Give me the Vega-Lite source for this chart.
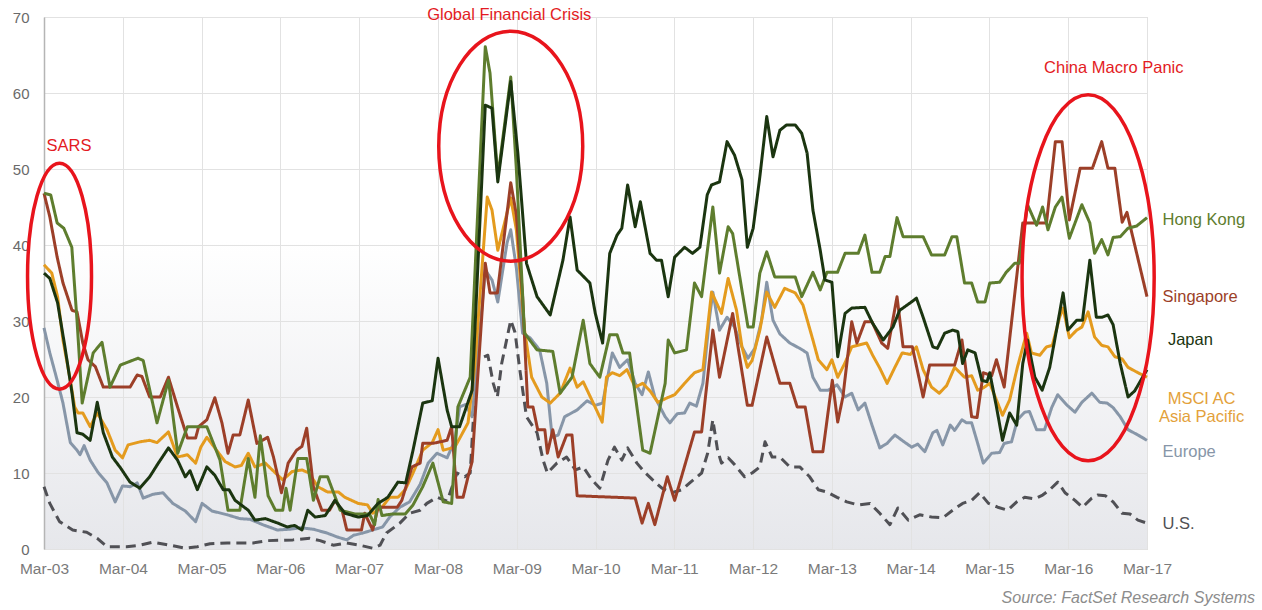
{
  "$schema": "https://vega.github.io/schema/vega-lite/v6.json",
  "width": 1103,
  "height": 532,
  "autosize": "none",
  "padding": {"left": 44, "top": 17, "right": 115, "bottom": 61},
  "background": "white",
  "config": {
    "font": "Liberation Sans",
    "view": {
      "stroke": "#cfcfcf",
      "strokeWidth": 1,
      "fill": {"gradient": "linear", "x1": 0, "y1": 0, "x2": 0, "y2": 1,
        "stops": [{"offset": 0, "color": "#ffffff"}, {"offset": 0.42, "color": "#ffffff"}, {"offset": 1, "color": "#e6e7eb"}]}
    }
  },
  "datasets": {
    "series": [
      {"s":"US","d":"2003-03-01","v":8.2},{"s":"US","d":"2003-03-28","v":6.0},{"s":"US","d":"2003-05-12","v":3.6},{"s":"US","d":"2003-07-12","v":2.5},{"s":"US","d":"2003-09-15","v":2.2},{"s":"US","d":"2003-11-03","v":1.4},{"s":"US","d":"2003-12-18","v":0.3},{"s":"US","d":"2004-03-18","v":0.3},{"s":"US","d":"2004-05-18","v":0.5},{"s":"US","d":"2004-07-18","v":0.9},{"s":"US","d":"2004-10-06","v":0.5},{"s":"US","d":"2004-12-15","v":0.1},{"s":"US","d":"2005-02-09","v":0.3},{"s":"US","d":"2005-04-09","v":0.7},{"s":"US","d":"2005-06-28","v":0.8},{"s":"US","d":"2005-10-25","v":0.8},{"s":"US","d":"2006-01-01","v":1.1},{"s":"US","d":"2006-04-28","v":1.2},{"s":"US","d":"2006-07-15","v":1.4},{"s":"US","d":"2006-09-01","v":1.1},{"s":"US","d":"2006-11-01","v":0.5},{"s":"US","d":"2007-01-03","v":0.8},{"s":"US","d":"2007-03-03","v":0.5},{"s":"US","d":"2007-05-03","v":0.1},{"s":"US","d":"2007-06-06","v":0.5},{"s":"US","d":"2007-07-06","v":2.1},{"s":"US","d":"2007-09-06","v":3.4},{"s":"US","d":"2007-10-21","v":4.7},{"s":"US","d":"2007-12-09","v":5.1},{"s":"US","d":"2008-01-09","v":6.0},{"s":"US","d":"2008-02-25","v":6.8},{"s":"US","d":"2008-04-12","v":6.3},{"s":"US","d":"2008-05-28","v":10.0},{"s":"US","d":"2008-07-03","v":9.5},{"s":"US","d":"2008-07-28","v":10.0},{"s":"US","d":"2008-08-28","v":24.9},{"s":"US","d":"2008-10-18","v":25.5},{"s":"US","d":"2008-11-12","v":21.8},{"s":"US","d":"2008-12-01","v":20.0},{"s":"US","d":"2008-12-21","v":24.4},{"s":"US","d":"2009-02-01","v":30.1},{"s":"US","d":"2009-02-21","v":28.5},{"s":"US","d":"2009-03-15","v":23.6},{"s":"US","d":"2009-04-15","v":17.4},{"s":"US","d":"2009-06-03","v":15.3},{"s":"US","d":"2009-07-01","v":11.7},{"s":"US","d":"2009-07-21","v":10.0},{"s":"US","d":"2009-09-03","v":11.3},{"s":"US","d":"2009-10-18","v":12.1},{"s":"US","d":"2009-11-28","v":10.4},{"s":"US","d":"2010-01-03","v":10.8},{"s":"US","d":"2010-02-12","v":9.1},{"s":"US","d":"2010-03-21","v":8.0},{"s":"US","d":"2010-04-28","v":11.7},{"s":"US","d":"2010-05-28","v":13.4},{"s":"US","d":"2010-07-01","v":11.7},{"s":"US","d":"2010-07-28","v":13.3},{"s":"US","d":"2010-09-09","v":11.3},{"s":"US","d":"2010-10-15","v":10.1},{"s":"US","d":"2010-11-21","v":9.1},{"s":"US","d":"2011-01-03","v":8.0},{"s":"US","d":"2011-02-18","v":7.4},{"s":"US","d":"2011-04-06","v":7.8},{"s":"US","d":"2011-05-12","v":8.7},{"s":"US","d":"2011-07-06","v":10.0},{"s":"US","d":"2011-08-03","v":12.6},{"s":"US","d":"2011-08-27","v":17.0},{"s":"US","d":"2011-09-18","v":13.0},{"s":"US","d":"2011-10-06","v":11.3},{"s":"US","d":"2011-11-06","v":12.0},{"s":"US","d":"2011-12-06","v":11.1},{"s":"US","d":"2012-01-21","v":9.5},{"s":"US","d":"2012-02-25","v":10.0},{"s":"US","d":"2012-04-01","v":10.8},{"s":"US","d":"2012-04-25","v":14.1},{"s":"US","d":"2012-05-28","v":12.1},{"s":"US","d":"2012-07-03","v":12.1},{"s":"US","d":"2012-08-18","v":10.8},{"s":"US","d":"2012-10-03","v":10.8},{"s":"US","d":"2012-11-18","v":9.5},{"s":"US","d":"2012-12-28","v":7.8},{"s":"US","d":"2013-02-06","v":7.5},{"s":"US","d":"2013-03-25","v":6.8},{"s":"US","d":"2013-05-09","v":6.2},{"s":"US","d":"2013-07-01","v":5.8},{"s":"US","d":"2013-08-25","v":6.0},{"s":"US","d":"2013-10-09","v":4.7},{"s":"US","d":"2013-11-25","v":3.2},{"s":"US","d":"2014-01-01","v":5.4},{"s":"US","d":"2014-02-18","v":3.8},{"s":"US","d":"2014-04-12","v":4.5},{"s":"US","d":"2014-06-06","v":4.2},{"s":"US","d":"2014-07-28","v":4.1},{"s":"US","d":"2014-09-12","v":5.1},{"s":"US","d":"2014-10-28","v":6.0},{"s":"US","d":"2014-12-09","v":6.4},{"s":"US","d":"2015-01-15","v":7.4},{"s":"US","d":"2015-02-25","v":6.0},{"s":"US","d":"2015-04-09","v":5.5},{"s":"US","d":"2015-05-25","v":5.1},{"s":"US","d":"2015-07-06","v":6.2},{"s":"US","d":"2015-08-12","v":6.8},{"s":"US","d":"2015-09-28","v":6.6},{"s":"US","d":"2015-11-03","v":7.1},{"s":"US","d":"2015-12-06","v":7.8},{"s":"US","d":"2016-01-12","v":8.8},{"s":"US","d":"2016-02-15","v":7.4},{"s":"US","d":"2016-04-01","v":6.4},{"s":"US","d":"2016-05-06","v":5.5},{"s":"US","d":"2016-06-18","v":6.7},{"s":"US","d":"2016-07-15","v":7.1},{"s":"US","d":"2016-08-21","v":7.0},{"s":"US","d":"2016-09-25","v":6.2},{"s":"US","d":"2016-11-06","v":4.7},{"s":"US","d":"2016-12-12","v":4.6},{"s":"US","d":"2017-01-18","v":3.8},{"s":"US","d":"2017-03-01","v":3.4},

      {"s":"EU","d":"2003-03-01","v":29.1},{"s":"EU","d":"2003-03-28","v":25.8},{"s":"EU","d":"2003-05-01","v":22.2},{"s":"EU","d":"2003-05-28","v":19.2},{"s":"EU","d":"2003-07-01","v":14.0},{"s":"EU","d":"2003-08-01","v":13.0},{"s":"EU","d":"2003-08-15","v":12.4},{"s":"EU","d":"2003-09-03","v":13.6},{"s":"EU","d":"2003-10-01","v":11.7},{"s":"EU","d":"2003-11-06","v":10.1},{"s":"EU","d":"2003-12-18","v":8.7},{"s":"EU","d":"2004-01-25","v":6.2},{"s":"EU","d":"2004-02-28","v":8.3},{"s":"EU","d":"2004-04-03","v":8.2},{"s":"EU","d":"2004-05-06","v":8.7},{"s":"EU","d":"2004-06-03","v":6.7},{"s":"EU","d":"2004-07-18","v":7.2},{"s":"EU","d":"2004-09-03","v":7.4},{"s":"EU","d":"2004-10-18","v":6.0},{"s":"EU","d":"2004-12-15","v":5.0},{"s":"EU","d":"2005-02-01","v":3.6},{"s":"EU","d":"2005-03-03","v":6.0},{"s":"EU","d":"2005-04-18","v":5.0},{"s":"EU","d":"2005-06-28","v":4.5},{"s":"EU","d":"2005-08-25","v":4.0},{"s":"EU","d":"2005-10-12","v":3.9},{"s":"EU","d":"2005-12-09","v":3.2},{"s":"EU","d":"2006-02-15","v":2.5},{"s":"EU","d":"2006-04-15","v":2.6},{"s":"EU","d":"2006-06-01","v":2.8},{"s":"EU","d":"2006-08-01","v":2.6},{"s":"EU","d":"2006-10-03","v":2.1},{"s":"EU","d":"2006-11-18","v":1.6},{"s":"EU","d":"2007-01-03","v":1.2},{"s":"EU","d":"2007-02-03","v":1.8},{"s":"EU","d":"2007-03-18","v":2.1},{"s":"EU","d":"2007-05-03","v":2.5},{"s":"EU","d":"2007-06-18","v":2.9},{"s":"EU","d":"2007-07-21","v":4.2},{"s":"EU","d":"2007-09-06","v":5.5},{"s":"EU","d":"2007-10-21","v":6.2},{"s":"EU","d":"2007-12-09","v":8.5},{"s":"EU","d":"2008-01-15","v":11.3},{"s":"EU","d":"2008-02-25","v":12.6},{"s":"EU","d":"2008-04-12","v":12.0},{"s":"EU","d":"2008-05-18","v":14.3},{"s":"EU","d":"2008-06-09","v":18.7},{"s":"EU","d":"2008-07-06","v":19.0},{"s":"EU","d":"2008-08-06","v":17.4},{"s":"EU","d":"2008-10-06","v":36.7},{"s":"EU","d":"2008-11-06","v":35.4},{"s":"EU","d":"2008-12-03","v":32.5},{"s":"EU","d":"2009-01-15","v":40.3},{"s":"EU","d":"2009-02-01","v":42.0},{"s":"EU","d":"2009-02-27","v":37.0},{"s":"EU","d":"2009-03-28","v":28.4},{"s":"EU","d":"2009-05-01","v":27.8},{"s":"EU","d":"2009-06-15","v":26.2},{"s":"EU","d":"2009-07-18","v":21.8},{"s":"EU","d":"2009-08-12","v":14.7},{"s":"EU","d":"2009-09-09","v":15.0},{"s":"EU","d":"2009-10-09","v":17.4},{"s":"EU","d":"2009-12-06","v":18.3},{"s":"EU","d":"2010-01-21","v":19.5},{"s":"EU","d":"2010-02-28","v":18.9},{"s":"EU","d":"2010-04-03","v":19.2},{"s":"EU","d":"2010-05-18","v":25.8},{"s":"EU","d":"2010-06-21","v":23.9},{"s":"EU","d":"2010-07-28","v":24.9},{"s":"EU","d":"2010-09-01","v":21.8},{"s":"EU","d":"2010-10-03","v":20.3},{"s":"EU","d":"2010-11-01","v":23.3},{"s":"EU","d":"2010-12-01","v":20.0},{"s":"EU","d":"2011-01-18","v":17.4},{"s":"EU","d":"2011-02-09","v":16.6},{"s":"EU","d":"2011-03-15","v":17.8},{"s":"EU","d":"2011-04-18","v":17.9},{"s":"EU","d":"2011-05-12","v":19.2},{"s":"EU","d":"2011-06-12","v":18.8},{"s":"EU","d":"2011-07-12","v":21.8},{"s":"EU","d":"2011-08-12","v":30.5},{"s":"EU","d":"2011-08-27","v":33.8},{"s":"EU","d":"2011-09-27","v":28.8},{"s":"EU","d":"2011-11-01","v":30.5},{"s":"EU","d":"2011-12-06","v":29.2},{"s":"EU","d":"2012-01-09","v":26.6},{"s":"EU","d":"2012-02-06","v":25.1},{"s":"EU","d":"2012-03-09","v":26.4},{"s":"EU","d":"2012-04-09","v":30.1},{"s":"EU","d":"2012-05-03","v":35.1},{"s":"EU","d":"2012-06-01","v":30.1},{"s":"EU","d":"2012-07-03","v":28.3},{"s":"EU","d":"2012-08-18","v":27.1},{"s":"EU","d":"2012-10-03","v":26.4},{"s":"EU","d":"2012-11-06","v":25.8},{"s":"EU","d":"2012-12-03","v":22.6},{"s":"EU","d":"2013-01-06","v":20.9},{"s":"EU","d":"2013-02-12","v":20.9},{"s":"EU","d":"2013-03-25","v":21.6},{"s":"EU","d":"2013-05-01","v":20.0},{"s":"EU","d":"2013-06-01","v":20.5},{"s":"EU","d":"2013-07-01","v":18.3},{"s":"EU","d":"2013-08-01","v":19.2},{"s":"EU","d":"2013-09-03","v":16.3},{"s":"EU","d":"2013-10-09","v":13.3},{"s":"EU","d":"2013-11-12","v":13.9},{"s":"EU","d":"2013-12-18","v":15.0},{"s":"EU","d":"2014-01-25","v":14.2},{"s":"EU","d":"2014-03-06","v":13.4},{"s":"EU","d":"2014-04-03","v":13.8},{"s":"EU","d":"2014-05-06","v":12.8},{"s":"EU","d":"2014-06-12","v":15.3},{"s":"EU","d":"2014-07-01","v":15.6},{"s":"EU","d":"2014-07-28","v":13.7},{"s":"EU","d":"2014-09-01","v":16.3},{"s":"EU","d":"2014-09-21","v":15.6},{"s":"EU","d":"2014-10-25","v":17.0},{"s":"EU","d":"2014-11-15","v":16.6},{"s":"EU","d":"2014-12-09","v":16.6},{"s":"EU","d":"2015-01-06","v":13.9},{"s":"EU","d":"2015-02-01","v":11.3},{"s":"EU","d":"2015-03-12","v":12.6},{"s":"EU","d":"2015-04-18","v":12.7},{"s":"EU","d":"2015-05-09","v":13.9},{"s":"EU","d":"2015-06-12","v":14.1},{"s":"EU","d":"2015-07-09","v":17.0},{"s":"EU","d":"2015-08-12","v":18.0},{"s":"EU","d":"2015-09-03","v":18.1},{"s":"EU","d":"2015-10-06","v":15.7},{"s":"EU","d":"2015-11-12","v":15.7},{"s":"EU","d":"2015-12-15","v":18.6},{"s":"EU","d":"2016-01-12","v":20.3},{"s":"EU","d":"2016-02-25","v":18.9},{"s":"EU","d":"2016-04-01","v":18.0},{"s":"EU","d":"2016-05-03","v":19.3},{"s":"EU","d":"2016-06-18","v":20.5},{"s":"EU","d":"2016-07-25","v":19.3},{"s":"EU","d":"2016-08-28","v":19.2},{"s":"EU","d":"2016-09-25","v":18.6},{"s":"EU","d":"2016-10-28","v":17.4},{"s":"EU","d":"2016-12-03","v":15.7},{"s":"EU","d":"2017-01-18","v":15.0},{"s":"EU","d":"2017-03-01","v":14.3},

      {"s":"AP","d":"2003-03-01","v":37.4},{"s":"AP","d":"2003-04-06","v":36.3},{"s":"AP","d":"2003-05-03","v":33.2},{"s":"AP","d":"2003-05-28","v":27.5},{"s":"AP","d":"2003-07-01","v":22.2},{"s":"AP","d":"2003-07-21","v":18.7},{"s":"AP","d":"2003-08-06","v":17.9},{"s":"AP","d":"2003-08-28","v":17.9},{"s":"AP","d":"2003-10-01","v":16.1},{"s":"AP","d":"2003-11-03","v":17.9},{"s":"AP","d":"2003-12-18","v":15.7},{"s":"AP","d":"2004-01-25","v":13.0},{"s":"AP","d":"2004-02-28","v":12.0},{"s":"AP","d":"2004-03-25","v":13.7},{"s":"AP","d":"2004-05-18","v":14.1},{"s":"AP","d":"2004-07-03","v":14.3},{"s":"AP","d":"2004-08-06","v":14.0},{"s":"AP","d":"2004-09-28","v":15.4},{"s":"AP","d":"2004-11-09","v":12.1},{"s":"AP","d":"2004-12-25","v":12.4},{"s":"AP","d":"2005-02-01","v":11.3},{"s":"AP","d":"2005-02-25","v":13.4},{"s":"AP","d":"2005-03-25","v":14.7},{"s":"AP","d":"2005-05-09","v":13.0},{"s":"AP","d":"2005-06-18","v":11.5},{"s":"AP","d":"2005-08-03","v":10.8},{"s":"AP","d":"2005-09-01","v":11.0},{"s":"AP","d":"2005-10-03","v":12.6},{"s":"AP","d":"2005-11-03","v":10.8},{"s":"AP","d":"2005-12-21","v":11.3},{"s":"AP","d":"2006-02-06","v":10.0},{"s":"AP","d":"2006-03-12","v":9.1},{"s":"AP","d":"2006-04-25","v":10.2},{"s":"AP","d":"2006-06-09","v":10.4},{"s":"AP","d":"2006-07-12","v":10.0},{"s":"AP","d":"2006-08-21","v":8.2},{"s":"AP","d":"2006-10-06","v":7.5},{"s":"AP","d":"2006-11-25","v":7.5},{"s":"AP","d":"2006-12-25","v":6.8},{"s":"AP","d":"2007-02-25","v":6.0},{"s":"AP","d":"2007-04-09","v":5.8},{"s":"AP","d":"2007-05-03","v":4.7},{"s":"AP","d":"2007-06-15","v":5.5},{"s":"AP","d":"2007-07-21","v":6.8},{"s":"AP","d":"2007-08-28","v":6.8},{"s":"AP","d":"2007-10-01","v":7.8},{"s":"AP","d":"2007-11-06","v":10.0},{"s":"AP","d":"2007-12-21","v":13.0},{"s":"AP","d":"2008-02-03","v":14.0},{"s":"AP","d":"2008-03-01","v":15.7},{"s":"AP","d":"2008-03-25","v":13.0},{"s":"AP","d":"2008-05-18","v":13.4},{"s":"AP","d":"2008-07-18","v":16.6},{"s":"AP","d":"2008-08-18","v":24.0},{"s":"AP","d":"2008-10-15","v":46.3},{"s":"AP","d":"2008-11-06","v":44.6},{"s":"AP","d":"2008-12-03","v":39.3},{"s":"AP","d":"2009-02-01","v":46.2},{"s":"AP","d":"2009-02-27","v":42.0},{"s":"AP","d":"2009-04-06","v":28.8},{"s":"AP","d":"2009-05-09","v":22.6},{"s":"AP","d":"2009-06-25","v":20.0},{"s":"AP","d":"2009-08-03","v":19.2},{"s":"AP","d":"2009-09-18","v":20.5},{"s":"AP","d":"2009-11-03","v":23.8},{"s":"AP","d":"2009-12-06","v":21.3},{"s":"AP","d":"2010-01-03","v":22.0},{"s":"AP","d":"2010-02-12","v":19.6},{"s":"AP","d":"2010-04-01","v":16.7},{"s":"AP","d":"2010-04-21","v":22.6},{"s":"AP","d":"2010-05-18","v":23.2},{"s":"AP","d":"2010-06-21","v":22.8},{"s":"AP","d":"2010-07-25","v":23.6},{"s":"AP","d":"2010-09-01","v":21.3},{"s":"AP","d":"2010-10-06","v":21.8},{"s":"AP","d":"2010-11-09","v":20.8},{"s":"AP","d":"2010-12-15","v":19.3},{"s":"AP","d":"2011-01-28","v":19.9},{"s":"AP","d":"2011-03-03","v":20.3},{"s":"AP","d":"2011-04-18","v":21.8},{"s":"AP","d":"2011-06-03","v":23.2},{"s":"AP","d":"2011-07-12","v":23.6},{"s":"AP","d":"2011-08-21","v":33.8},{"s":"AP","d":"2011-10-06","v":31.0},{"s":"AP","d":"2011-11-06","v":35.6},{"s":"AP","d":"2011-12-15","v":31.4},{"s":"AP","d":"2012-01-09","v":26.6},{"s":"AP","d":"2012-02-03","v":23.9},{"s":"AP","d":"2012-02-25","v":24.8},{"s":"AP","d":"2012-04-01","v":28.8},{"s":"AP","d":"2012-05-03","v":33.8},{"s":"AP","d":"2012-06-09","v":31.8},{"s":"AP","d":"2012-07-25","v":34.3},{"s":"AP","d":"2012-09-12","v":33.7},{"s":"AP","d":"2012-10-18","v":32.1},{"s":"AP","d":"2012-12-03","v":27.5},{"s":"AP","d":"2012-12-28","v":24.9},{"s":"AP","d":"2013-02-06","v":23.6},{"s":"AP","d":"2013-03-01","v":24.9},{"s":"AP","d":"2013-03-28","v":22.6},{"s":"AP","d":"2013-05-01","v":24.5},{"s":"AP","d":"2013-06-01","v":26.6},{"s":"AP","d":"2013-08-09","v":27.1},{"s":"AP","d":"2013-09-06","v":25.5},{"s":"AP","d":"2013-10-09","v":23.8},{"s":"AP","d":"2013-11-12","v":21.8},{"s":"AP","d":"2013-12-18","v":23.9},{"s":"AP","d":"2014-01-21","v":25.8},{"s":"AP","d":"2014-02-28","v":25.6},{"s":"AP","d":"2014-03-28","v":26.6},{"s":"AP","d":"2014-04-28","v":23.6},{"s":"AP","d":"2014-06-06","v":21.3},{"s":"AP","d":"2014-07-12","v":20.5},{"s":"AP","d":"2014-08-15","v":21.5},{"s":"AP","d":"2014-09-21","v":23.9},{"s":"AP","d":"2014-11-06","v":22.6},{"s":"AP","d":"2014-12-09","v":22.8},{"s":"AP","d":"2015-01-06","v":20.9},{"s":"AP","d":"2015-02-01","v":21.2},{"s":"AP","d":"2015-03-03","v":21.8},{"s":"AP","d":"2015-04-03","v":19.6},{"s":"AP","d":"2015-05-01","v":17.6},{"s":"AP","d":"2015-06-03","v":19.6},{"s":"AP","d":"2015-07-09","v":23.9},{"s":"AP","d":"2015-08-21","v":28.4},{"s":"AP","d":"2015-09-12","v":25.8},{"s":"AP","d":"2015-10-21","v":25.5},{"s":"AP","d":"2015-11-21","v":26.6},{"s":"AP","d":"2015-12-18","v":26.8},{"s":"AP","d":"2016-01-21","v":30.5},{"s":"AP","d":"2016-02-06","v":31.7},{"s":"AP","d":"2016-03-06","v":27.8},{"s":"AP","d":"2016-04-09","v":28.8},{"s":"AP","d":"2016-05-03","v":29.2},{"s":"AP","d":"2016-06-01","v":31.2},{"s":"AP","d":"2016-07-01","v":27.9},{"s":"AP","d":"2016-08-03","v":26.8},{"s":"AP","d":"2016-09-01","v":26.6},{"s":"AP","d":"2016-10-03","v":25.3},{"s":"AP","d":"2016-11-06","v":25.0},{"s":"AP","d":"2016-12-03","v":23.9},{"s":"AP","d":"2017-01-18","v":23.2},{"s":"AP","d":"2017-03-01","v":22.6},

      {"s":"SG","d":"2003-03-01","v":46.8},{"s":"SG","d":"2003-03-28","v":43.7},{"s":"SG","d":"2003-05-01","v":38.4},{"s":"SG","d":"2003-05-28","v":35.0},{"s":"SG","d":"2003-07-09","v":31.4},{"s":"SG","d":"2003-08-01","v":31.2},{"s":"SG","d":"2003-08-28","v":27.1},{"s":"SG","d":"2003-09-21","v":24.9},{"s":"SG","d":"2003-10-25","v":24.0},{"s":"SG","d":"2003-12-01","v":21.3},{"s":"SG","d":"2004-04-03","v":21.3},{"s":"SG","d":"2004-05-06","v":22.9},{"s":"SG","d":"2004-05-28","v":22.7},{"s":"SG","d":"2004-07-03","v":20.0},{"s":"SG","d":"2004-08-21","v":20.0},{"s":"SG","d":"2004-09-28","v":22.6},{"s":"SG","d":"2004-11-09","v":18.7},{"s":"SG","d":"2004-12-25","v":14.6},{"s":"SG","d":"2005-02-01","v":14.6},{"s":"SG","d":"2005-02-15","v":16.1},{"s":"SG","d":"2005-03-25","v":17.0},{"s":"SG","d":"2005-05-01","v":19.9},{"s":"SG","d":"2005-06-03","v":16.6},{"s":"SG","d":"2005-07-01","v":12.6},{"s":"SG","d":"2005-07-25","v":15.0},{"s":"SG","d":"2005-08-25","v":15.0},{"s":"SG","d":"2005-10-03","v":19.6},{"s":"SG","d":"2005-11-12","v":13.9},{"s":"SG","d":"2006-01-01","v":14.7},{"s":"SG","d":"2006-01-28","v":12.1},{"s":"SG","d":"2006-03-06","v":7.4},{"s":"SG","d":"2006-04-06","v":11.3},{"s":"SG","d":"2006-05-15","v":13.0},{"s":"SG","d":"2006-06-09","v":13.5},{"s":"SG","d":"2006-07-01","v":15.9},{"s":"SG","d":"2006-08-01","v":8.2},{"s":"SG","d":"2006-09-09","v":5.1},{"s":"SG","d":"2006-10-15","v":5.1},{"s":"SG","d":"2006-11-09","v":6.4},{"s":"SG","d":"2006-12-12","v":5.1},{"s":"SG","d":"2007-01-03","v":2.5},{"s":"SG","d":"2007-03-12","v":2.5},{"s":"SG","d":"2007-03-27","v":4.7},{"s":"SG","d":"2007-05-03","v":2.5},{"s":"SG","d":"2007-05-28","v":5.5},{"s":"SG","d":"2007-07-21","v":5.5},{"s":"SG","d":"2007-08-25","v":5.5},{"s":"SG","d":"2007-09-15","v":6.4},{"s":"SG","d":"2007-11-01","v":10.8},{"s":"SG","d":"2007-12-09","v":11.3},{"s":"SG","d":"2007-12-21","v":13.9},{"s":"SG","d":"2008-02-06","v":13.9},{"s":"SG","d":"2008-04-12","v":14.3},{"s":"SG","d":"2008-05-03","v":16.1},{"s":"SG","d":"2008-05-28","v":6.8},{"s":"SG","d":"2008-06-25","v":6.8},{"s":"SG","d":"2008-07-18","v":9.5},{"s":"SG","d":"2008-08-06","v":11.5},{"s":"SG","d":"2008-10-06","v":37.6},{"s":"SG","d":"2008-10-28","v":33.7},{"s":"SG","d":"2008-12-01","v":33.7},{"s":"SG","d":"2009-02-01","v":48.2},{"s":"SG","d":"2009-02-27","v":44.0},{"s":"SG","d":"2009-03-28","v":33.2},{"s":"SG","d":"2009-04-21","v":18.7},{"s":"SG","d":"2009-05-15","v":18.7},{"s":"SG","d":"2009-06-06","v":15.7},{"s":"SG","d":"2009-07-09","v":15.7},{"s":"SG","d":"2009-07-21","v":12.6},{"s":"SG","d":"2009-08-15","v":15.7},{"s":"SG","d":"2009-09-09","v":12.1},{"s":"SG","d":"2009-10-18","v":15.0},{"s":"SG","d":"2009-11-12","v":15.0},{"s":"SG","d":"2009-12-06","v":7.0},{"s":"SG","d":"2010-09-01","v":6.7},{"s":"SG","d":"2010-10-03","v":3.4},{"s":"SG","d":"2010-11-01","v":6.0},{"s":"SG","d":"2010-12-01","v":3.2},{"s":"SG","d":"2011-01-28","v":9.5},{"s":"SG","d":"2011-03-03","v":6.4},{"s":"SG","d":"2011-06-03","v":15.4},{"s":"SG","d":"2011-07-06","v":15.4},{"s":"SG","d":"2011-08-27","v":28.8},{"s":"SG","d":"2011-09-27","v":22.6},{"s":"SG","d":"2011-11-27","v":31.0},{"s":"SG","d":"2012-02-03","v":18.9},{"s":"SG","d":"2012-02-25","v":18.9},{"s":"SG","d":"2012-05-03","v":27.9},{"s":"SG","d":"2012-07-03","v":21.8},{"s":"SG","d":"2012-08-18","v":21.8},{"s":"SG","d":"2012-09-21","v":18.7},{"s":"SG","d":"2012-10-28","v":18.7},{"s":"SG","d":"2012-12-03","v":12.8},{"s":"SG","d":"2013-01-18","v":12.8},{"s":"SG","d":"2013-03-03","v":22.2},{"s":"SG","d":"2013-03-28","v":16.7},{"s":"SG","d":"2013-04-21","v":20.0},{"s":"SG","d":"2013-06-01","v":29.9},{"s":"SG","d":"2013-06-25","v":27.1},{"s":"SG","d":"2013-08-01","v":29.9},{"s":"SG","d":"2013-09-03","v":29.9},{"s":"SG","d":"2013-10-18","v":27.1},{"s":"SG","d":"2013-11-15","v":26.4},{"s":"SG","d":"2013-12-28","v":33.2},{"s":"SG","d":"2014-01-25","v":26.6},{"s":"SG","d":"2014-03-09","v":26.6},{"s":"SG","d":"2014-04-28","v":20.0},{"s":"SG","d":"2014-05-28","v":24.2},{"s":"SG","d":"2014-09-21","v":24.2},{"s":"SG","d":"2014-10-25","v":27.5},{"s":"SG","d":"2014-11-06","v":25.0},{"s":"SG","d":"2014-12-09","v":17.4},{"s":"SG","d":"2015-01-03","v":17.3},{"s":"SG","d":"2015-02-01","v":23.2},{"s":"SG","d":"2015-03-12","v":22.8},{"s":"SG","d":"2015-04-03","v":24.9},{"s":"SG","d":"2015-05-09","v":21.3},{"s":"SG","d":"2015-08-03","v":42.9},{"s":"SG","d":"2015-11-21","v":42.9},{"s":"SG","d":"2016-01-01","v":53.6},{"s":"SG","d":"2016-02-01","v":53.6},{"s":"SG","d":"2016-03-06","v":43.3},{"s":"SG","d":"2016-04-25","v":50.1},{"s":"SG","d":"2016-06-21","v":50.1},{"s":"SG","d":"2016-08-03","v":53.6},{"s":"SG","d":"2016-09-01","v":50.1},{"s":"SG","d":"2016-10-03","v":50.1},{"s":"SG","d":"2016-11-06","v":43.0},{"s":"SG","d":"2016-11-28","v":44.3},{"s":"SG","d":"2017-03-01","v":33.2},

      {"s":"HK","d":"2003-03-01","v":46.8},{"s":"HK","d":"2003-04-01","v":46.6},{"s":"HK","d":"2003-05-01","v":42.9},{"s":"HK","d":"2003-06-01","v":42.2},{"s":"HK","d":"2003-07-08","v":39.7},{"s":"HK","d":"2003-08-01","v":30.1},{"s":"HK","d":"2003-08-25","v":19.2},{"s":"HK","d":"2003-10-15","v":25.8},{"s":"HK","d":"2003-11-25","v":27.2},{"s":"HK","d":"2004-01-01","v":21.3},{"s":"HK","d":"2004-02-18","v":24.2},{"s":"HK","d":"2004-03-25","v":24.6},{"s":"HK","d":"2004-05-10","v":25.1},{"s":"HK","d":"2004-06-03","v":24.8},{"s":"HK","d":"2004-08-06","v":16.6},{"s":"HK","d":"2004-09-28","v":22.2},{"s":"HK","d":"2004-11-10","v":12.6},{"s":"HK","d":"2004-12-25","v":16.1},{"s":"HK","d":"2005-03-25","v":16.1},{"s":"HK","d":"2005-05-25","v":11.7},{"s":"HK","d":"2005-07-01","v":5.1},{"s":"HK","d":"2005-08-25","v":5.1},{"s":"HK","d":"2005-10-03","v":11.9},{"s":"HK","d":"2005-11-03","v":6.8},{"s":"HK","d":"2005-11-28","v":14.9},{"s":"HK","d":"2006-01-03","v":7.0},{"s":"HK","d":"2006-02-06","v":5.1},{"s":"HK","d":"2006-03-12","v":5.1},{"s":"HK","d":"2006-03-27","v":8.0},{"s":"HK","d":"2006-04-15","v":5.1},{"s":"HK","d":"2006-05-21","v":11.9},{"s":"HK","d":"2006-07-01","v":11.9},{"s":"HK","d":"2006-08-01","v":6.4},{"s":"HK","d":"2006-09-01","v":9.5},{"s":"HK","d":"2006-10-06","v":9.5},{"s":"HK","d":"2006-12-03","v":5.1},{"s":"HK","d":"2007-02-12","v":4.6},{"s":"HK","d":"2007-04-18","v":4.6},{"s":"HK","d":"2007-05-12","v":3.2},{"s":"HK","d":"2007-05-28","v":6.5},{"s":"HK","d":"2007-06-15","v":4.4},{"s":"HK","d":"2007-08-01","v":4.6},{"s":"HK","d":"2007-10-01","v":4.6},{"s":"HK","d":"2007-11-06","v":5.8},{"s":"HK","d":"2007-12-21","v":8.2},{"s":"HK","d":"2008-02-06","v":11.3},{"s":"HK","d":"2008-03-25","v":6.2},{"s":"HK","d":"2008-05-03","v":6.0},{"s":"HK","d":"2008-06-01","v":18.7},{"s":"HK","d":"2008-07-28","v":22.6},{"s":"HK","d":"2008-10-06","v":66.1},{"s":"HK","d":"2008-10-28","v":62.6},{"s":"HK","d":"2008-12-03","v":48.9},{"s":"HK","d":"2009-02-01","v":62.1},{"s":"HK","d":"2009-02-27","v":50.0},{"s":"HK","d":"2009-04-06","v":28.4},{"s":"HK","d":"2009-06-03","v":26.2},{"s":"HK","d":"2009-08-15","v":26.0},{"s":"HK","d":"2009-09-18","v":20.5},{"s":"HK","d":"2009-11-12","v":22.6},{"s":"HK","d":"2010-01-03","v":30.1},{"s":"HK","d":"2010-02-03","v":24.4},{"s":"HK","d":"2010-03-21","v":22.6},{"s":"HK","d":"2010-05-06","v":28.2},{"s":"HK","d":"2010-06-09","v":28.2},{"s":"HK","d":"2010-07-06","v":25.8},{"s":"HK","d":"2010-08-06","v":25.8},{"s":"HK","d":"2010-10-06","v":13.0},{"s":"HK","d":"2010-11-09","v":12.6},{"s":"HK","d":"2011-01-18","v":21.8},{"s":"HK","d":"2011-02-01","v":27.5},{"s":"HK","d":"2011-03-03","v":25.8},{"s":"HK","d":"2011-04-27","v":26.2},{"s":"HK","d":"2011-06-03","v":35.0},{"s":"HK","d":"2011-07-06","v":33.2},{"s":"HK","d":"2011-08-27","v":45.0},{"s":"HK","d":"2011-09-27","v":36.3},{"s":"HK","d":"2011-11-06","v":42.4},{"s":"HK","d":"2011-11-27","v":41.5},{"s":"HK","d":"2012-02-06","v":29.2},{"s":"HK","d":"2012-03-01","v":29.2},{"s":"HK","d":"2012-04-01","v":36.3},{"s":"HK","d":"2012-05-03","v":39.1},{"s":"HK","d":"2012-06-09","v":35.8},{"s":"HK","d":"2012-09-12","v":35.8},{"s":"HK","d":"2012-10-12","v":33.2},{"s":"HK","d":"2012-12-03","v":36.4},{"s":"HK","d":"2013-01-06","v":34.1},{"s":"HK","d":"2013-02-06","v":36.4},{"s":"HK","d":"2013-03-27","v":36.4},{"s":"HK","d":"2013-05-01","v":38.9},{"s":"HK","d":"2013-07-01","v":38.9},{"s":"HK","d":"2013-08-01","v":41.3},{"s":"HK","d":"2013-09-03","v":36.4},{"s":"HK","d":"2013-10-09","v":36.4},{"s":"HK","d":"2013-11-03","v":38.5},{"s":"HK","d":"2013-11-25","v":38.5},{"s":"HK","d":"2013-12-28","v":43.6},{"s":"HK","d":"2014-01-25","v":41.1},{"s":"HK","d":"2014-04-28","v":41.1},{"s":"HK","d":"2014-06-06","v":38.7},{"s":"HK","d":"2014-08-06","v":38.7},{"s":"HK","d":"2014-09-09","v":41.1},{"s":"HK","d":"2014-10-01","v":41.1},{"s":"HK","d":"2014-11-06","v":35.0},{"s":"HK","d":"2014-12-09","v":35.0},{"s":"HK","d":"2015-01-06","v":32.5},{"s":"HK","d":"2015-02-09","v":32.5},{"s":"HK","d":"2015-03-03","v":35.0},{"s":"HK","d":"2015-04-18","v":35.1},{"s":"HK","d":"2015-05-18","v":36.4},{"s":"HK","d":"2015-06-27","v":37.6},{"s":"HK","d":"2015-07-18","v":37.6},{"s":"HK","d":"2015-08-25","v":45.3},{"s":"HK","d":"2015-10-06","v":42.6},{"s":"HK","d":"2015-11-03","v":45.0},{"s":"HK","d":"2015-11-28","v":42.0},{"s":"HK","d":"2016-01-01","v":45.0},{"s":"HK","d":"2016-02-01","v":46.3},{"s":"HK","d":"2016-03-06","v":40.9},{"s":"HK","d":"2016-05-03","v":45.3},{"s":"HK","d":"2016-06-09","v":42.9},{"s":"HK","d":"2016-07-01","v":38.9},{"s":"HK","d":"2016-08-03","v":40.7},{"s":"HK","d":"2016-09-01","v":38.7},{"s":"HK","d":"2016-09-25","v":41.0},{"s":"HK","d":"2016-10-28","v":41.1},{"s":"HK","d":"2016-12-03","v":42.2},{"s":"HK","d":"2017-01-12","v":42.5},{"s":"HK","d":"2017-03-01","v":43.6},

      {"s":"JP","d":"2003-03-01","v":36.3},{"s":"JP","d":"2003-03-28","v":35.6},{"s":"JP","d":"2003-05-03","v":32.4},{"s":"JP","d":"2003-06-06","v":26.6},{"s":"JP","d":"2003-07-09","v":20.5},{"s":"JP","d":"2003-08-01","v":15.3},{"s":"JP","d":"2003-08-28","v":15.1},{"s":"JP","d":"2003-10-01","v":14.3},{"s":"JP","d":"2003-11-03","v":19.3},{"s":"JP","d":"2003-12-01","v":15.3},{"s":"JP","d":"2004-01-12","v":12.1},{"s":"JP","d":"2004-02-18","v":10.7},{"s":"JP","d":"2004-04-03","v":8.8},{"s":"JP","d":"2004-05-18","v":8.0},{"s":"JP","d":"2004-07-03","v":9.5},{"s":"JP","d":"2004-08-12","v":11.3},{"s":"JP","d":"2004-09-28","v":13.3},{"s":"JP","d":"2004-11-09","v":11.7},{"s":"JP","d":"2004-12-15","v":9.5},{"s":"JP","d":"2005-01-06","v":10.3},{"s":"JP","d":"2005-02-09","v":7.8},{"s":"JP","d":"2005-03-25","v":10.8},{"s":"JP","d":"2005-05-01","v":9.7},{"s":"JP","d":"2005-06-09","v":7.8},{"s":"JP","d":"2005-07-06","v":7.8},{"s":"JP","d":"2005-08-03","v":6.4},{"s":"JP","d":"2005-10-03","v":5.1},{"s":"JP","d":"2005-11-03","v":3.8},{"s":"JP","d":"2005-12-21","v":4.0},{"s":"JP","d":"2006-02-18","v":3.4},{"s":"JP","d":"2006-04-01","v":2.9},{"s":"JP","d":"2006-05-06","v":3.1},{"s":"JP","d":"2006-06-09","v":2.5},{"s":"JP","d":"2006-07-06","v":5.1},{"s":"JP","d":"2006-08-09","v":4.2},{"s":"JP","d":"2006-09-25","v":4.4},{"s":"JP","d":"2006-11-09","v":6.4},{"s":"JP","d":"2006-12-25","v":4.7},{"s":"JP","d":"2007-02-25","v":4.2},{"s":"JP","d":"2007-04-09","v":4.4},{"s":"JP","d":"2007-05-28","v":6.0},{"s":"JP","d":"2007-07-12","v":6.8},{"s":"JP","d":"2007-08-28","v":8.8},{"s":"JP","d":"2007-10-03","v":8.7},{"s":"JP","d":"2007-11-06","v":13.0},{"s":"JP","d":"2007-12-21","v":19.2},{"s":"JP","d":"2008-02-03","v":19.5},{"s":"JP","d":"2008-03-01","v":25.1},{"s":"JP","d":"2008-04-12","v":18.3},{"s":"JP","d":"2008-05-03","v":16.1},{"s":"JP","d":"2008-06-09","v":16.1},{"s":"JP","d":"2008-08-06","v":20.9},{"s":"JP","d":"2008-10-06","v":58.4},{"s":"JP","d":"2008-11-06","v":58.0},{"s":"JP","d":"2008-12-03","v":48.3},{"s":"JP","d":"2009-02-01","v":61.5},{"s":"JP","d":"2009-03-06","v":52.1},{"s":"JP","d":"2009-04-15","v":37.6},{"s":"JP","d":"2009-06-03","v":33.2},{"s":"JP","d":"2009-08-03","v":30.8},{"s":"JP","d":"2009-10-01","v":38.0},{"s":"JP","d":"2009-11-03","v":43.7},{"s":"JP","d":"2009-12-06","v":36.7},{"s":"JP","d":"2010-02-03","v":35.0},{"s":"JP","d":"2010-02-28","v":31.0},{"s":"JP","d":"2010-04-03","v":27.1},{"s":"JP","d":"2010-05-06","v":38.9},{"s":"JP","d":"2010-06-09","v":41.3},{"s":"JP","d":"2010-07-01","v":42.2},{"s":"JP","d":"2010-07-28","v":47.9},{"s":"JP","d":"2010-09-01","v":42.4},{"s":"JP","d":"2010-09-25","v":45.7},{"s":"JP","d":"2010-11-09","v":38.9},{"s":"JP","d":"2010-12-09","v":38.0},{"s":"JP","d":"2011-01-01","v":38.0},{"s":"JP","d":"2011-02-01","v":33.2},{"s":"JP","d":"2011-03-03","v":38.4},{"s":"JP","d":"2011-04-18","v":39.7},{"s":"JP","d":"2011-05-25","v":38.9},{"s":"JP","d":"2011-06-28","v":39.7},{"s":"JP","d":"2011-08-01","v":46.6},{"s":"JP","d":"2011-08-21","v":47.9},{"s":"JP","d":"2011-09-27","v":48.3},{"s":"JP","d":"2011-11-01","v":53.6},{"s":"JP","d":"2011-12-06","v":51.8},{"s":"JP","d":"2012-01-09","v":48.6},{"s":"JP","d":"2012-02-03","v":39.7},{"s":"JP","d":"2012-03-01","v":42.2},{"s":"JP","d":"2012-04-01","v":49.0},{"s":"JP","d":"2012-05-03","v":56.9},{"s":"JP","d":"2012-06-01","v":51.6},{"s":"JP","d":"2012-07-03","v":55.1},{"s":"JP","d":"2012-08-03","v":55.8},{"s":"JP","d":"2012-09-12","v":55.8},{"s":"JP","d":"2012-10-12","v":54.7},{"s":"JP","d":"2012-11-06","v":52.1},{"s":"JP","d":"2012-12-03","v":44.6},{"s":"JP","d":"2013-01-06","v":39.3},{"s":"JP","d":"2013-01-28","v":35.4},{"s":"JP","d":"2013-03-01","v":35.1},{"s":"JP","d":"2013-03-28","v":25.3},{"s":"JP","d":"2013-05-01","v":31.0},{"s":"JP","d":"2013-06-01","v":31.7},{"s":"JP","d":"2013-08-01","v":31.8},{"s":"JP","d":"2013-09-06","v":29.7},{"s":"JP","d":"2013-10-25","v":27.5},{"s":"JP","d":"2013-12-09","v":29.2},{"s":"JP","d":"2014-01-09","v":31.4},{"s":"JP","d":"2014-02-28","v":32.4},{"s":"JP","d":"2014-03-28","v":33.0},{"s":"JP","d":"2014-04-28","v":30.5},{"s":"JP","d":"2014-06-12","v":26.6},{"s":"JP","d":"2014-07-03","v":26.4},{"s":"JP","d":"2014-08-06","v":28.4},{"s":"JP","d":"2014-09-12","v":28.8},{"s":"JP","d":"2014-10-06","v":28.6},{"s":"JP","d":"2014-10-28","v":24.4},{"s":"JP","d":"2014-11-21","v":26.2},{"s":"JP","d":"2014-12-25","v":25.8},{"s":"JP","d":"2015-01-25","v":22.2},{"s":"JP","d":"2015-02-18","v":22.0},{"s":"JP","d":"2015-03-03","v":23.2},{"s":"JP","d":"2015-04-03","v":18.7},{"s":"JP","d":"2015-05-01","v":14.3},{"s":"JP","d":"2015-06-03","v":17.9},{"s":"JP","d":"2015-07-06","v":16.3},{"s":"JP","d":"2015-08-03","v":24.4},{"s":"JP","d":"2015-08-25","v":27.5},{"s":"JP","d":"2015-09-28","v":22.6},{"s":"JP","d":"2015-11-01","v":20.9},{"s":"JP","d":"2015-12-06","v":23.9},{"s":"JP","d":"2016-01-09","v":29.2},{"s":"JP","d":"2016-02-06","v":33.7},{"s":"JP","d":"2016-02-28","v":28.8},{"s":"JP","d":"2016-04-09","v":30.1},{"s":"JP","d":"2016-05-06","v":30.1},{"s":"JP","d":"2016-06-09","v":38.0},{"s":"JP","d":"2016-07-09","v":30.5},{"s":"JP","d":"2016-08-06","v":30.5},{"s":"JP","d":"2016-09-01","v":30.8},{"s":"JP","d":"2016-09-25","v":29.5},{"s":"JP","d":"2016-10-28","v":24.4},{"s":"JP","d":"2016-12-03","v":20.0},{"s":"JP","d":"2017-01-03","v":20.8},{"s":"JP","d":"2017-03-01","v":23.6}
    ],
    "labels": [
      {"s":"HK","label":"Hong Kong","d":"2017-05-12","v":43.3},
      {"s":"SG","label":"Singapore","d":"2017-05-12","v":33.2},
      {"s":"JP","label":"Japan","d":"2017-06-06","v":27.5},
      {"s":"EU","label":"Europe","d":"2017-05-12","v":12.8},
      {"s":"US","label":"U.S.","d":"2017-05-12","v":3.3}
    ],
    "events": [
      {"e":"SARS","cd":"2003-05-12","cv":35.9,"ld":"2003-06-25","lv":53.0},
      {"e":"Global Financial Crisis","cd":"2009-02-01","cv":53.0,"ld":"2009-01-25","lv":70.3},
      {"e":"China Macro Panic","cd":"2016-06-01","cv":35.7,"ld":"2016-09-28","lv":63.3}
    ]
  },
  "encoding": {
    "x": {
      "field": "d", "type": "temporal",
      "scale": {"type": "utc", "domain": [{"year": 2003, "month": 3, "date": 1, "utc": true}, {"year": 2017, "month": 3, "date": 1, "utc": true}]},
      "axis": {
        "title": null,
        "values": [
          {"year": 2003, "month": 3, "date": 1, "utc": true},{"year": 2004, "month": 3, "date": 1, "utc": true},{"year": 2005, "month": 3, "date": 1, "utc": true},{"year": 2006, "month": 3, "date": 1, "utc": true},{"year": 2007, "month": 3, "date": 1, "utc": true},{"year": 2008, "month": 3, "date": 1, "utc": true},{"year": 2009, "month": 3, "date": 1, "utc": true},{"year": 2010, "month": 3, "date": 1, "utc": true},{"year": 2011, "month": 3, "date": 1, "utc": true},{"year": 2012, "month": 3, "date": 1, "utc": true},{"year": 2013, "month": 3, "date": 1, "utc": true},{"year": 2014, "month": 3, "date": 1, "utc": true},{"year": 2015, "month": 3, "date": 1, "utc": true},{"year": 2016, "month": 3, "date": 1, "utc": true},{"year": 2017, "month": 3, "date": 1, "utc": true}
        ],
        "labelExpr": "utcFormat(datum.value, '%b-%y')",
        "labelFlush": false, "labelOverlap": false,
        "labelFontSize": 15.5, "labelColor": "#7a7a7a", "labelPadding": 12,
        "grid": true, "gridColor": "#e2e2e2", "gridWidth": 1,
        "domain": false, "ticks": false, "tickSize": 0
      }
    },
    "y": {
      "field": "v", "type": "quantitative",
      "scale": {"domain": [0, 70], "nice": false, "zero": true},
      "axis": {
        "title": null, "values": [0, 10, 20, 30, 40, 50, 60, 70],
        "labelFontSize": 15, "labelColor": "#6a6a6a", "labelPadding": 15,
        "grid": true, "gridColor": "#e2e2e2", "gridWidth": 1,
        "domain": true, "domainColor": "#b5b5b5", "domainWidth": 1.5,
        "ticks": false, "tickSize": 0
      }
    }
  },
  "layer": [
    {
      "data": {"name": "series"},
      "mark": {"type": "line", "strokeWidth": 3, "strokeJoin": "round"},
      "encoding": {
        "color": {"field": "s", "type": "nominal", "legend": null,
          "scale": {"domain": ["US", "EU", "AP", "SG", "HK", "JP"], "range": ["#505055", "#8796a8", "#e49b1e", "#9c3f28", "#5e7d2e", "#1b3510"]}},
        "strokeDash": {"field": "s", "type": "nominal", "legend": null,
          "scale": {"domain": ["US", "EU", "AP", "SG", "HK", "JP"], "range": [[10, 6], [1, 0], [1, 0], [1, 0], [1, 0], [1, 0]]}},
        "strokeWidth": {"field": "s", "type": "nominal", "legend": null,
          "scale": {"domain": ["US", "EU", "AP", "SG", "HK", "JP"], "range": [3.6, 3, 3, 3, 3, 3]}}
      }
    },
    {
      "data": {"name": "labels"},
      "mark": {"type": "text", "align": "left", "baseline": "middle", "fontSize": 16.5},
      "encoding": {
        "text": {"field": "label"},
        "color": {"field": "s", "type": "nominal", "legend": null}
      }
    },
    {
      "data": {"values": [{"label": "MSCI AC|Asia Pacific", "d": "2017-11-09", "v": 19.7}]},
      "mark": {"type": "text", "align": "center", "baseline": "middle", "fontSize": 16.5, "lineBreak": "|", "lineHeight": 18, "color": "#e3a13a"},
      "encoding": {"text": {"field": "label"}}
    },
    {
      "data": {"name": "events"},
      "transform": [{"filter": "datum.e == 'SARS'"}],
      "mark": {"type": "point", "filled": false, "color": "#e8141c", "strokeWidth": 3.5, "opacity": 1, "size": 51076,
        "shape": "M0,-1C0.156,-1 0.283,-0.552 0.283,0C0.283,0.552 0.156,1 0,1C-0.156,1 -0.283,0.552 -0.283,0C-0.283,-0.552 -0.156,-1 0,-1Z"},
      "encoding": {"x": {"field": "cd", "type": "temporal"}, "y": {"field": "cv", "type": "quantitative"}}
    },
    {
      "data": {"name": "events"},
      "transform": [{"filter": "datum.e == 'Global Financial Crisis'"}],
      "mark": {"type": "point", "filled": false, "color": "#e8141c", "strokeWidth": 3.5, "opacity": 1, "size": 52900,
        "shape": "M0,-1C0.346,-1 0.626,-0.552 0.626,0C0.626,0.552 0.346,1 0,1C-0.346,1 -0.626,0.552 -0.626,0C-0.626,-0.552 -0.346,-1 0,-1Z"},
      "encoding": {"x": {"field": "cd", "type": "temporal"}, "y": {"field": "cv", "type": "quantitative"}}
    },
    {
      "data": {"name": "events"},
      "transform": [{"filter": "datum.e == 'China Macro Panic'"}],
      "mark": {"type": "point", "filled": false, "color": "#e8141c", "strokeWidth": 3.5, "opacity": 1, "size": 133956,
        "shape": "M0,-1C0.199,-1 0.361,-0.552 0.361,0C0.361,0.552 0.199,1 0,1C-0.199,1 -0.361,0.552 -0.361,0C-0.361,-0.552 -0.199,-1 0,-1Z"},
      "encoding": {"x": {"field": "cd", "type": "temporal"}, "y": {"field": "cv", "type": "quantitative"}}
    },
    {
      "data": {"name": "events"},
      "mark": {"type": "text", "align": "center", "baseline": "middle", "fontSize": 16.5, "color": "#e31b23"},
      "encoding": {"x": {"field": "ld", "type": "temporal"}, "y": {"field": "lv", "type": "quantitative"}, "text": {"field": "e"}}
    },
    {
      "data": {"values": [{"t": "Source: FactSet Research Systems", "d": "2018-07-15", "v": -6.45}]},
      "mark": {"type": "text", "align": "right", "baseline": "middle", "fontSize": 16, "fontStyle": "italic", "color": "#8c8c8c"},
      "encoding": {"text": {"field": "t"}}
    }
  ]
}
